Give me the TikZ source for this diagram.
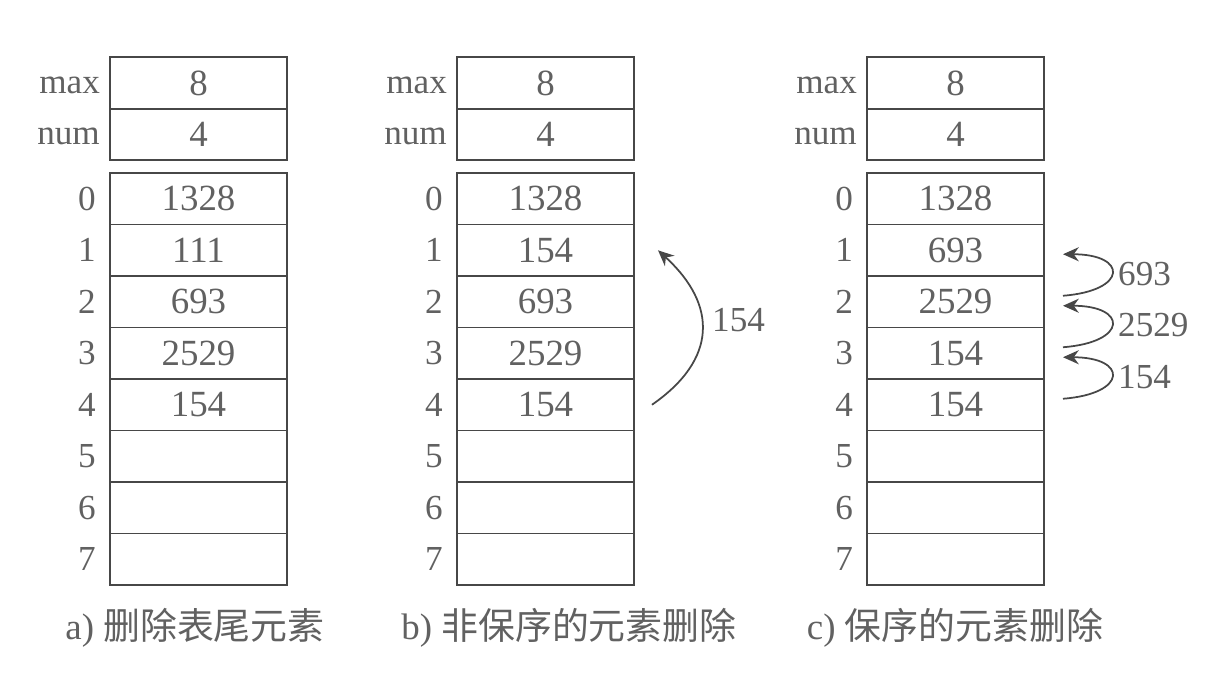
\documentclass[tikz,border=0pt]{standalone}
\usepackage{fontspec}
\setmainfont{Liberation Serif}
\newfontfamily\cjk{Noto Sans CJK SC}
\usetikzlibrary{calc,arrows.meta}
\colorlet{linegray}{black!72}
\colorlet{textgray}{black!62}
\tikzset{
  cell/.style={draw=linegray, line width=1.1pt, minimum width=3.54cm,
    minimum height=1.03cm, inner sep=0pt, outer sep=0pt, text=textgray,
    font=\fontsize{21}{24}\selectfont},
  lbl/.style={text=textgray, anchor=east, font=\fontsize{20}{23}\selectfont},
  caption/.style={text=textgray, font=\fontsize{21}{24}\selectfont},
  move/.style={draw=linegray, line width=1pt, -{Stealth[length=9pt,width=8pt]}}
}
\begin{document}
\begin{tikzpicture}[x=0.02cm,y=-0.02cm]
  \useasboundingbox (0,0) rectangle (1231,686);
  % three tables, same frame
  \foreach \p/\x in {a/110,b/457,c/867}{
    \node[cell] (\p max) at (\x+88.5,83) {8};
    \node[cell,anchor=north] (\p num) at (\p max.south) {4};
    \node[lbl] (\p maxl) at ($(\p max.west)+(-4,2)$) {max};
    \node[lbl] (\p numl) at ($(\p num.west)+(-4,2)$) {num};
    \coordinate (\p top) at (\x+88.5,173);
  }
  % a) delete the tail element
  \foreach \v [count=\i from 0] in {1328,111,693,2529,154,{},{},{}}{
    \node[cell,anchor=north] (a\i) at ($(atop)+(0,\i*51.5)$) {\v};
    \node[lbl] (a\i l) at ($(a\i.west)+(-8,0)$) {\i};
  }
  % b) unordered delete
  \foreach \v [count=\i from 0] in {1328,154,693,2529,154,{},{},{}}{
    \node[cell,anchor=north] (b\i) at ($(btop)+(0,\i*51.5)$) {\v};
    \node[lbl] (b\i l) at ($(b\i.west)+(-8,0)$) {\i};
  }
  % c) ordered delete
  \foreach \v [count=\i from 0] in {1328,693,2529,154,154,{},{},{}}{
    \node[cell,anchor=north] (c\i) at ($(ctop)+(0,\i*51.5)$) {\v};
    \node[lbl] (c\i l) at ($(c\i.west)+(-8,0)$) {\i};
  }
  % moves
  \coordinate (bs) at ($(b4.east)+(18,0)$);
  \coordinate (bt) at ($(b1.east)+(24,0)$);
  \draw[move] (bs) .. controls +(65,-45) and +(60,55) .. (bt);
  \node[lbl,anchor=west] (bm) at (706,320) {154};
  \foreach \s/\t/\v [count=\k] in {2/1/693,3/2/2529,4/3/154}{
    \coordinate (cs\k) at ($(c\s.east)+(19,-6)$);
    \coordinate (ct\k) at ($(c\t.east)+(19,4)$);
    \draw[move] (cs\k) .. controls +(65,-5) and +(65,0) .. (ct\k);
    \node[lbl,anchor=west] (cm\k) at ($(c\s.north east)+(68,-2)$) {\v};
  }
  % captions
  \node[caption] (acap) at (195,628) {a) {\cjk 删除表尾元素}};
  \node[caption] (bcap) at (569,628) {b) {\cjk 非保序的元素删除}};
  \node[caption] (ccap) at (955,628) {c) {\cjk 保序的元素删除}};
\end{tikzpicture}
\end{document}
